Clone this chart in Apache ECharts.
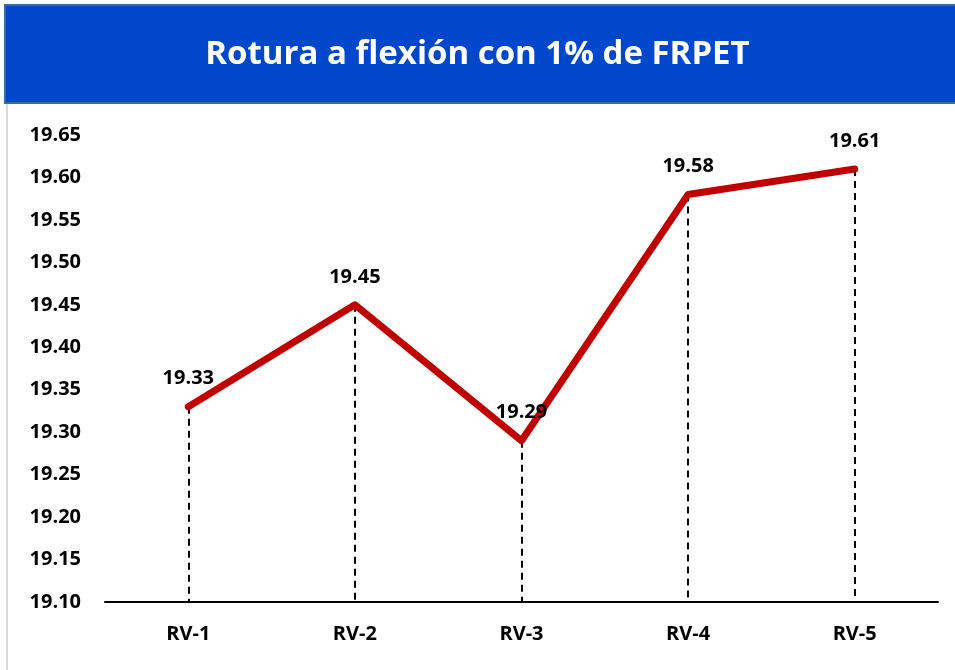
<!DOCTYPE html>
<html>
<head>
<meta charset="utf-8">
<script src="https://cdn.jsdelivr.net/npm/echarts@6/dist/echarts.min.js"></script>
<style>
  html, body { margin: 0; padding: 0; background: #fff; }
  #main { width: 955px; height: 670px; }
</style>
</head>
<body>
<div id="main"></div>
<script>
// datos del gráfico
var categories = ['RV-1', 'RV-2', 'RV-3', 'RV-4', 'RV-5'];
var roturaValues = [19.33, 19.45, 19.29, 19.58, 19.61];
var yMin = 19.10;
var yMax = 19.65;
var yStep = 0.05;

var chart = echarts.init(document.getElementById('main'));

// lineas punteadas desde cada punto hasta el eje
var dropLines = categories.map(function (c, i) {
    return [{ coord: [c, roturaValues[i]] }, { coord: [c, yMin] }];
});

var font = '"Open Sans", "Noto Sans", sans-serif';

var option = {
    backgroundColor: '#ffffff',
    animation: false,
    graphic: [
        {
            type: 'rect',
            shape: { x: 5, y: 5, width: 955, height: 98 },
            style: { fill: '#0047CC', stroke: '#3E6A95', lineWidth: 2 },
            z: 0
        },
        {
            type: 'line',
            shape: { x1: 7, y1: 104, x2: 7, y2: 670 },
            style: { stroke: '#D9D9D9', lineWidth: 2 }
        },
        {
            type: 'text',
            left: 'center',
            top: 38,
            style: {
                text: 'Rotura a flexión con 1% de FRPET',
                fill: '#ffffff',
                font: 'bold 33px ' + font
            },
            z: 10
        }
    ],
    grid: {
        left: 105,
        right: 17,
        top: 135,
        bottom: 68
    },
    xAxis: {
        type: 'category',
        data: categories,
        boundaryGap: true,
        axisLine: { lineStyle: { color: '#000', width: 2 } },
        axisTick: { show: false },
        axisLabel: {
            color: '#000',
            fontWeight: 'bold',
            fontSize: 20,
            fontFamily: font,
            margin: 22
        }
    },
    yAxis: {
        type: 'value',
        min: yMin,
        max: yMax,
        interval: yStep,
        axisLine: { show: false },
        axisTick: { show: false },
        splitLine: { show: false },
        axisLabel: {
            color: '#000',
            fontWeight: 'bold',
            fontSize: 20,
            fontFamily: font,
            margin: 24,
            formatter: function (v) { return v.toFixed(2); }
        }
    },
    series: [
        {
            type: 'line',
            data: roturaValues,
            symbol: 'circle',
            symbolSize: 2,
            itemStyle: { color: '#C00000' },
            lineStyle: { color: '#C00000', width: 7, cap: 'round', join: 'round' },
            label: {
                show: true,
                position: 'top',
                distance: 17,
                color: '#000',
                fontWeight: 'bold',
                fontSize: 20,
                fontFamily: font,
                formatter: function (p) { return p.value.toFixed(2); }
            },
            markLine: {
                silent: true,
                symbol: 'none',
                label: { show: false },
                lineStyle: { color: '#000', type: [7, 5], width: 2 },
                data: dropLines,
                z: 1
            },
            z: 3
        }
    ]
};

chart.setOption(option);
</script>
</body>
</html>
